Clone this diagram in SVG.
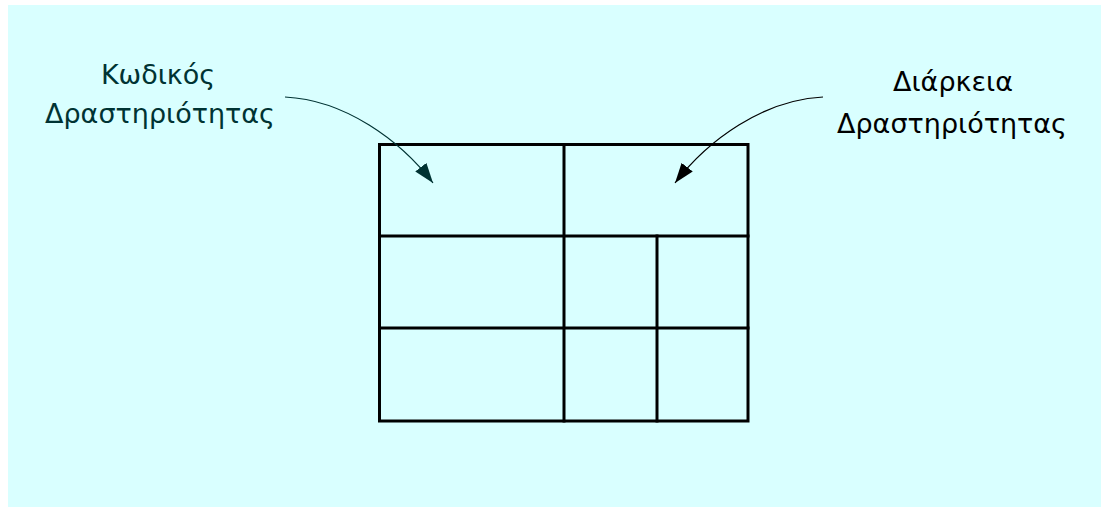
<svg xmlns="http://www.w3.org/2000/svg" width="1101" height="507" viewBox="0 0 1101 507">
  <style>
    .grid { fill: none; stroke: #000; stroke-width: 3; stroke-linecap: square; }
    .lbl { font-family: "DejaVu Sans", Verdana, sans-serif; font-size: 27px; text-anchor: middle; }
    .lblL { fill: #003333; }
    .lblR { fill: #000; }
    .conn { fill: none; stroke-width: 1.2; }
  </style>
  <defs>
    <marker id="arrL" viewBox="0 0 20 14" refX="20" refY="7" markerWidth="20" markerHeight="14" markerUnits="userSpaceOnUse" orient="auto">
      <path d="M0,0 L20,7 L0,14 Z" fill="#003333"/>
    </marker>
    <marker id="arrR" viewBox="0 0 20 14" refX="20" refY="7" markerWidth="20" markerHeight="14" markerUnits="userSpaceOnUse" orient="auto">
      <path d="M0,0 L20,7 L0,14 Z" fill="#000"/>
    </marker>
  </defs>
  <rect x="0" y="0" width="1101" height="507" fill="#ffffff"/>
  <rect x="8" y="5" width="1093" height="502" fill="#d9ffff"/>

  <g id="table">
    <rect class="grid" x="379.5" y="144.5" width="368.5" height="276.5"/>
    <line class="grid" x1="379.5" y1="236" x2="748" y2="236"/>
    <line class="grid" x1="379.5" y1="328" x2="748" y2="328"/>
    <line class="grid" x1="564" y1="144.5" x2="564" y2="421"/>
    <line class="grid" x1="657" y1="236" x2="657" y2="421"/>
  </g>

  <g id="label-code">
    <text class="lbl lblL" x="158" y="84">Κωδικός</text>
    <text class="lbl lblL" x="160" y="123">Δραστηριότητας</text>
  </g>

  <g id="label-duration">
    <text class="lbl lblR" x="953" y="91">Διάρκεια</text>
    <text class="lbl lblR" x="952" y="133">Δραστηριότητας</text>
  </g>

  <g id="connectors">
    <path class="conn" stroke="#003333" d="M285,97 C345,100 400,140 433,183" marker-end="url(#arrL)"/>
    <path class="conn" stroke="#000" d="M823,97 C763,100 708,140 675,183" marker-end="url(#arrR)"/>
  </g>
</svg>
